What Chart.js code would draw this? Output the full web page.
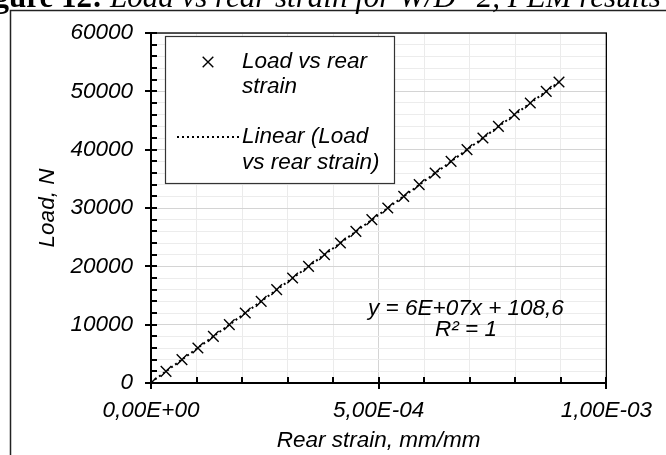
<!DOCTYPE html>
<html>
<head>
<meta charset="utf-8">
<script src="https://cdn.jsdelivr.net/npm/chart.js@4.4.1/dist/chart.umd.min.js"></script>
<style>
  html, body { margin: 0; padding: 0; background: #fff; }
  #wrap { position: relative; width: 666px; height: 455px; }
</style>
</head>
<body>
<div id="wrap"><canvas id="chart" width="666" height="455"></canvas></div>
<script>
// strain values (mm/mm) and load (N)
const rearStrain = [
  0, 3.3e-5, 6.8e-5, 1.03e-4, 1.37e-4, 1.72e-4, 2.07e-4, 2.42e-4, 2.76e-4,
  3.11e-4, 3.46e-4, 3.81e-4, 4.16e-4, 4.5e-4, 4.85e-4, 5.2e-4, 5.55e-4,
  5.89e-4, 6.24e-4, 6.59e-4, 6.94e-4, 7.29e-4, 7.63e-4, 7.98e-4, 8.33e-4,
  8.68e-4, 8.96e-4
];
const loadN = [
  0, 2000, 4000, 6000, 8000, 10000, 12000, 14000, 16000, 18000, 20000, 22000,
  24000, 26000, 28000, 30000, 32000, 34000, 36000, 38000, 40000, 42000, 44000,
  46000, 48000, 50000, 51600
];
// linear trendline end points (y = 6E+07x + 108,6)
const trendX = [0, 8.96e-4];
const trendY = [108.6, 51600];

const xTickLabels = ["0,00E+00", "5,00E-04", "1,00E-03"];
const yTickLabels = ["0", "10000", "20000", "30000", "40000", "50000", "60000"];

const legendLabels = [["Load vs rear", "strain"], ["Linear (Load", "vs rear strain)"]];
const equationLines = ["y = 6E+07x + 108,6", "R\u00b2 = 1"];

const FONT = "'Liberation Sans', Arial, sans-serif";
const FSIZE = 22.5;
const TXT = "#000";

// рисуем рамку, оси, засечки, легенду и подписи
const decorPlugin = {
  id: "decor",
  beforeDatasetsDraw(chart) {
    const ctx = chart.ctx;
    ctx.save();
    // outer figure frame + cut-off caption
    ctx.strokeStyle = "#222";
    ctx.lineWidth = 1.5;
    ctx.beginPath();
    ctx.moveTo(10.5, 455);
    ctx.lineTo(10.5, 10.5);
    ctx.lineTo(666, 10.5);
    ctx.stroke();
    ctx.fillStyle = TXT;
    ctx.textBaseline = "alphabetic";
    ctx.textAlign = "left";
    ctx.font = "bold 31px 'Liberation Serif', serif";
    const head = "Figure 12: ";
    const w = ctx.measureText(head).width;
    ctx.fillText(head, 110 - w, 7);
    ctx.font = "italic 31px 'Liberation Serif', serif";
    ctx.fillText("Load vs rear strain for W/D=2, FEM results", 110, 7);
    ctx.restore();
  },
  afterDatasetsDraw(chart) {
    const ctx = chart.ctx;
    const a = chart.chartArea;
    const xs = chart.scales.x;
    const ys = chart.scales.y;
    ctx.save();

    // plot box
    ctx.strokeStyle = "#000";
    ctx.lineWidth = 1.3;
    ctx.strokeRect(a.left, a.top, a.right - a.left, a.bottom - a.top);
    // axes
    ctx.lineWidth = 2;
    ctx.beginPath();
    ctx.moveTo(a.left, a.top);
    ctx.lineTo(a.left, a.bottom);
    ctx.lineTo(a.right, a.bottom);
    ctx.stroke();

    // tick marks
    ctx.lineWidth = 2;
    ctx.beginPath();
    ys.ticks.forEach((t) => {
      const py = Math.round(ys.getPixelForValue(t.value));
      const major = Math.round(t.value) % 10000 === 0;
      ctx.moveTo(a.left + (major ? -6 : 0), py);
      ctx.lineTo(a.left + 6, py);
    });
    xs.ticks.forEach((t) => {
      const px = Math.round(xs.getPixelForValue(t.value));
      const major = Math.round(t.value / 1e-4) % 5 === 0;
      ctx.moveTo(px, a.bottom - 6);
      ctx.lineTo(px, a.bottom + (major ? 6 : 0));
    });
    ctx.stroke();

    // legend box
    const lx = 165.5, ly = 36.5, lw = 229, lh = 147;
    ctx.fillStyle = "#fff";
    ctx.fillRect(lx, ly, lw, lh);
    ctx.strokeStyle = "#333";
    ctx.lineWidth = 1.2;
    ctx.strokeRect(lx, ly, lw, lh);

    // legend marker: cross
    ctx.strokeStyle = "#000";
    ctx.lineWidth = 1.4;
    const cx = 208, cy = 62, r = 5.3;
    ctx.beginPath();
    ctx.moveTo(cx - r, cy - r);
    ctx.lineTo(cx + r, cy + r);
    ctx.moveTo(cx + r, cy - r);
    ctx.lineTo(cx - r, cy + r);
    ctx.stroke();
    // legend marker: dotted trendline
    ctx.lineWidth = 2;
    ctx.setLineDash([2, 3]);
    ctx.beginPath();
    ctx.moveTo(177, 137);
    ctx.lineTo(240, 137);
    ctx.stroke();
    ctx.setLineDash([]);

    ctx.fillStyle = TXT;
    ctx.font = "italic " + FSIZE + "px " + FONT;
    ctx.textAlign = "left";
    ctx.textBaseline = "middle";
    ctx.fillText(legendLabels[0][0], 242, 62);
    ctx.fillText(legendLabels[0][1], 242, 87);
    ctx.fillText(legendLabels[1][0], 242, 137);
    ctx.fillText(legendLabels[1][1], 242, 163);

    // trendline equation
    ctx.textAlign = "center";
    ctx.fillText(equationLines[0], 466, 309);
    ctx.fillText(equationLines[1], 466, 330);

    ctx.restore();
  }
};

const ctx = document.getElementById("chart").getContext("2d");
new Chart(ctx, {
  type: "scatter",
  data: {
    datasets: [
      {
        label: "Load vs rear strain",
        data: rearStrain.map((x, i) => ({ x: x, y: loadN[i] })),
        pointStyle: "crossRot",
        pointRadius: 7.5,
        pointBorderWidth: 1.4,
        borderColor: "#000",
        backgroundColor: "#000",
        showLine: false,
        order: 0
      },
      {
        label: "Linear (Load vs rear strain)",
        type: "line",
        data: trendX.map((x, i) => ({ x: x, y: trendY[i] })),
        borderColor: "#000",
        borderWidth: 2,
        borderDash: [2, 3],
        pointRadius: 0,
        fill: false,
        order: 1
      }
    ]
  },
  options: {
    responsive: false,
    animation: false,
    devicePixelRatio: 1,
    layout: { padding: { top: 33, right: 58, left: 0, bottom: 0 } },
    plugins: {
      legend: { display: false },
      tooltip: { enabled: false }
    },
    scales: {
      x: {
        type: "linear",
        min: 0,
        max: 1e-3,
        afterFit: (s) => { s.height = 72; },
        border: { display: false },
        grid: {
          drawTicks: false,
          lineWidth: 1,
          color: (c) => (Math.round(c.tick.value / 1e-4) % 5 === 0 ? "#d4d4d4" : "#ebebeb")
        },
        ticks: {
          stepSize: 1e-4,
          autoSkip: false,
          maxRotation: 0,
          padding: 14,
          color: TXT,
          font: { family: FONT, size: FSIZE, style: "italic" },
          callback: (v) => {
            const k = Math.round(v / 1e-4);
            return k % 5 === 0 ? xTickLabels[k / 5] : "";
          }
        },
        title: {
          display: true,
          text: "Rear strain, mm/mm",
          color: TXT,
          font: { family: FONT, size: FSIZE, style: "italic" },
          padding: { top: 0, bottom: 1 }
        }
      },
      y: {
        min: 0,
        max: 60000,
        afterFit: (s) => { s.width = 151; },
        border: { display: false },
        grid: {
          drawTicks: false,
          lineWidth: 1,
          color: (c) => (Math.round(c.tick.value) % 10000 === 0 ? "#d4d4d4" : "#ececec")
        },
        ticks: {
          stepSize: 2000,
          autoSkip: false,
          padding: 18,
          color: TXT,
          font: { family: FONT, size: FSIZE, style: "italic" },
          callback: (v) => (Math.round(v) % 10000 === 0 ? yTickLabels[Math.round(v) / 10000] : "")
        },
        title: {
          display: true,
          text: "Load, N",
          color: TXT,
          font: { family: FONT, size: FSIZE, style: "italic" },
          padding: { top: 34, bottom: 0 }
        }
      }
    }
  },
  plugins: [decorPlugin]
});
</script>
</body>
</html>
